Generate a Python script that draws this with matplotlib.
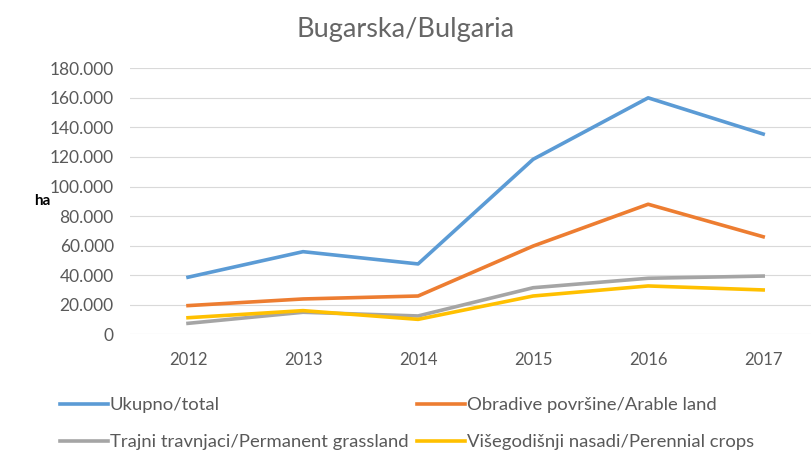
import numpy as np
import matplotlib.pyplot as plt
from matplotlib.ticker import FuncFormatter

godine = ['2012', '2013', '2014', '2015', '2016', '2017']
ukupno = [38600, 55900, 47600, 118400, 160000, 135500]
obradive = [19400, 23900, 25900, 59700, 88000, 66000]
travnjaci = [7400, 14900, 12400, 31500, 37900, 39400]
nasadi = [11200, 16000, 10100, 25900, 32700, 30000]

nazivi = ['Ukupno/total', 'Obradive površine/Arable land',
          'Trajni travnjaci/Permanent grassland', 'Višegodišnji nasadi/Perennial crops']
boje = ['#5B9BD5', '#ED7D31', '#A5A5A5', '#FFC000']

plt.rcParams['font.family'] = ['Lato', 'DejaVu Sans']
siva = '#595959'

fig = plt.figure(figsize=(8.12, 4.54), dpi=100)
ax = fig.add_axes([0.1607, 0.2637, 0.85, 0.5859])

x = np.arange(len(godine))
linije = []
for serija, boja in zip([ukupno, obradive, travnjaci, nasadi], boje):
    l, = ax.plot(x, serija, color=boja, lw=2.6, solid_joinstyle='round')
    linije.append(l)

ax.set_xlim(-0.5, len(godine) - 0.5)
ax.set_ylim(0, 180000)
ax.set_yticks(np.arange(0, 180001, 20000))
ax.yaxis.set_major_formatter(FuncFormatter(lambda v, p: f'{int(v):,}'.replace(',', '.')))
ax.set_xticks(x)
ax.set_xticklabels(godine)
ax.tick_params(colors=siva, length=0)
ax.tick_params(axis='y', labelsize=12.5, pad=12)
ax.tick_params(axis='x', labelsize=12, pad=13)
ax.grid(axis='y', color='#D9D9D9', lw=0.8)
ax.set_axisbelow(True)
for s in ax.spines.values():
    s.set_visible(False)

fig.text(0.5, 0.935, 'Bugarska/Bulgaria', ha='center', va='center', fontsize=19.5, color='#666666')
fig.text(0.052, 0.558, 'ha', ha='center', va='center', fontsize=11, fontweight='bold', color='black')

# legenda kao u Excelu, dva reda po dvije stavke
pozicije = [(0.074, 0.108), (0.5135, 0.108), (0.074, 0.026), (0.5135, 0.026)]
for l, naziv, (px, py) in zip(linije, nazivi, pozicije):
    leg = fig.legend([l], [naziv], loc='center left', bbox_to_anchor=(px, py),
                     frameon=False, fontsize=13.3, handlelength=2.6, handletextpad=0.1,
                     borderpad=0, borderaxespad=0)
    for t in leg.get_texts():
        t.set_color(siva)

fig.savefig('out.png', dpi=100)
